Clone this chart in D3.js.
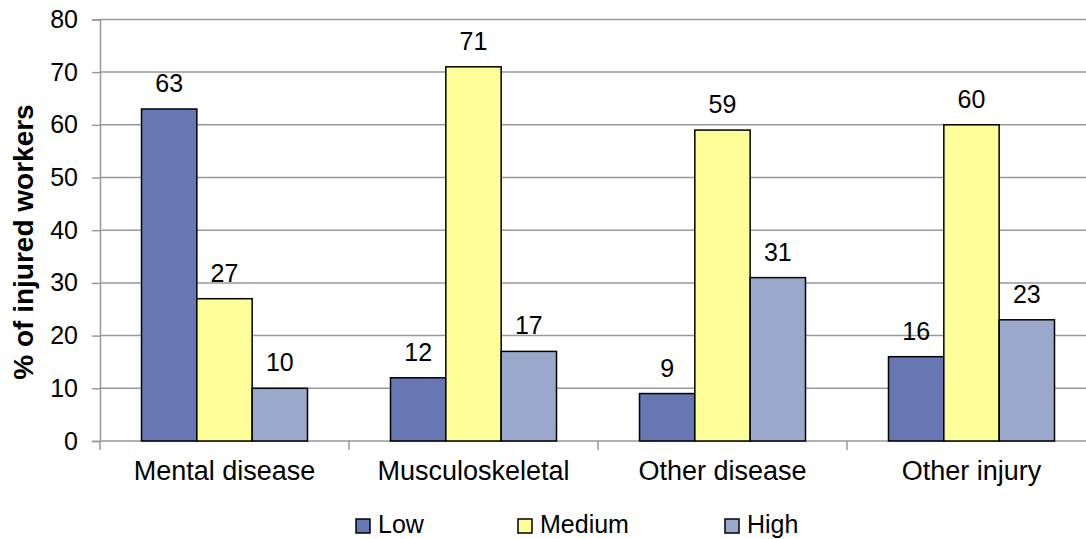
<!DOCTYPE html>
<html><head><meta charset="utf-8">
<script src="https://cdn.jsdelivr.net/npm/d3@7"></script>
<style>body{margin:0;background:#fff}svg{display:block}text{font-family:"Liberation Sans",Arial,sans-serif}</style>
</head><body><svg id="c" width="1086" height="539"></svg>
<script>
const categories = ["Mental disease","Musculoskeletal","Other disease","Other injury"];
const seriesNames = ["Low","Medium","High"];
const low = [63,12,9,16];
const medium = [27,71,59,60];
const high = [10,17,31,23];
const yTicks = [0,10,20,30,40,50,60,70,80];
const colors = ["#6677b3","#ffff99","#9aa8cc"];
const values = [low, medium, high];

const svg = d3.select("#c");
const plotLeft = 100, plotRight = 1096, plotTop = 19.4, plotBottom = 441;
const x = d3.scaleBand().domain(categories).range([plotLeft, plotRight]).paddingInner(0).paddingOuter(0);
const xs = d3.scaleBand().domain(seriesNames).range([0, x.bandwidth()]).paddingInner(0).paddingOuter(0.75);
const y = d3.scaleLinear().domain([0,80]).range([plotBottom, plotTop]);

// gridlines
svg.append("g").selectAll("line").data(yTicks).join("line")
  .attr("x1", plotLeft).attr("x2", 1086).attr("y1", d=>y(d)).attr("y2", d=>y(d))
  .attr("stroke", "#999").attr("stroke-width", 1.5);

// y axis
const ya = svg.append("g").attr("transform", `translate(${plotLeft},0)`)
  .call(d3.axisLeft(y).tickValues(yTicks).tickSize(8).tickPadding(14));
ya.select(".domain").attr("stroke","#999").attr("stroke-width",1.5);
ya.selectAll(".tick line").attr("stroke","#999").attr("stroke-width",1.5);
ya.selectAll(".tick text").attr("font-size","25px").attr("fill","#000").style("font-family","'Liberation Sans',Arial,sans-serif");

// x axis
const xa = svg.append("g").attr("transform", `translate(0,${plotBottom})`)
  .call(d3.axisBottom(x).tickSize(0).tickPadding(20));
xa.select(".domain").remove();
xa.selectAll(".tick text").attr("font-size","27px").attr("fill","#000").style("font-family","'Liberation Sans',Arial,sans-serif");
const bounds = categories.map(c=>x(c)).concat([plotRight]);
svg.append("g").selectAll("line").data(bounds).join("line")
  .attr("x1", d=>d).attr("x2", d=>d).attr("y1", plotBottom).attr("y2", plotBottom+9)
  .attr("stroke","#999").attr("stroke-width",1.5);

// bars
const groups = svg.append("g").selectAll("g").data(seriesNames).join("g");
groups.each(function(s, si){
  const g = d3.select(this);
  g.selectAll("rect").data(categories).join("rect")
    .attr("x", c=>x(c)+xs(s)).attr("width", xs.bandwidth())
    .attr("y", (c,i)=>y(values[si][i])).attr("height", (c,i)=>plotBottom-y(values[si][i]))
    .attr("fill", colors[si]).attr("stroke","#000").attr("stroke-width",1.5);
  g.selectAll("text").data(categories).join("text")
    .attr("x", c=>x(c)+xs(s)+xs.bandwidth()/2)
    .attr("y", (c,i)=>y(values[si][i])-17)
    .attr("text-anchor","middle").attr("font-size","25px")
    .text((c,i)=>values[si][i]);
});

// y title
svg.append("text").attr("transform","translate(33,242) rotate(-90)")
  .attr("text-anchor","middle").attr("font-size","28px").attr("font-weight","bold")
  .text("% of injured workers");

// legend
const legX = [356, 518, 725];
const leg = svg.append("g").selectAll("g").data(seriesNames).join("g")
  .attr("transform",(d,i)=>`translate(${legX[i]},519)`);
leg.append("rect").attr("width",14).attr("height",14).attr("fill",(d,i)=>colors[i]).attr("stroke","#000").attr("stroke-width",1.5);
leg.append("text").attr("x",22).attr("y",14).attr("font-size","25px").text(d=>d);
</script></body></html>
